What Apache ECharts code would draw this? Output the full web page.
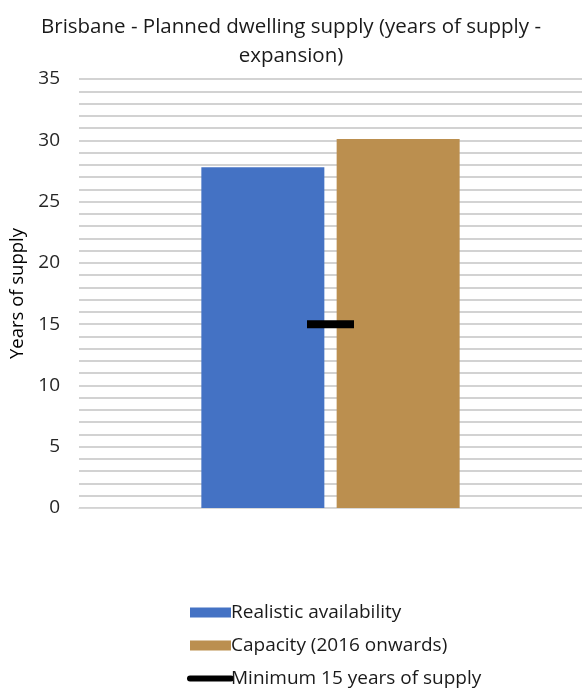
<!DOCTYPE html>
<html>
<head>
<meta charset="utf-8">
<script src="https://cdn.jsdelivr.net/npm/echarts@6/dist/echarts.min.js"></script>
<style>
  html, body { margin: 0; padding: 0; background: #fff; }
  #chart { width: 582px; height: 689px; }
</style>
</head>
<body>
<div id="chart"></div>
<script>
// Single-category dwelling supply chart for Brisbane
const categories = ['Brisbane'];
const realisticAvailability = [27.8];
const capacity2016 = [30.1];
const minimumSupply = [15];
const yTicks = { min: 0, max: 35, step: 5 };

const seriesNames = [
  'Realistic availability',
  'Capacity (2016 onwards)',
  'Minimum 15 years of supply'
];

const font = '"Open Sans", "Noto Sans", sans-serif';
const chart = echarts.init(document.getElementById('chart'));

chart.setOption({
  animation: false,
  backgroundColor: '#ffffff',
  title: {
    text: 'Brisbane - Planned dwelling supply (years of supply -\nexpansion)',
    left: 'center',
    top: 8,
    textStyle: {
      fontFamily: font,
      fontSize: 20.5,
      fontWeight: 'normal',
      color: '#1a1a1a',
      lineHeight: 29
    }
  },
  grid: { left: 79, right: 0, top: 79, bottom: 181, outerBoundsMode: 'none', containLabel: false },
  legend: {
    orient: 'vertical',
    left: 187,
    top: 603,
    padding: 0,
    itemWidth: 41,
    itemHeight: 10,
    itemGap: 14,
    textStyle: { fontFamily: font, fontSize: 19, color: '#1a1a1a', padding: [0, 0, 0, -5] },
    data: [
      { name: seriesNames[0], icon: 'rect' },
      { name: seriesNames[1], icon: 'rect' },
      { name: seriesNames[2], itemStyle: { opacity: 0 }, lineStyle: { width: 6, cap: 'round', color: '#000000' } }
    ]
  },
  xAxis: {
    type: 'category',
    data: categories,
    axisLine: { show: true, lineStyle: { color: '#d9d9d9', width: 1 } },
    axisTick: { show: false },
    axisLabel: { show: false }
  },
  yAxis: {
    type: 'value',
    min: yTicks.min,
    max: yTicks.max,
    interval: yTicks.step,
    name: 'Years of supply',
    nameLocation: 'middle',
    nameGap: 50,
    nameTextStyle: { fontFamily: font, fontSize: 18.5, color: '#000000' },
    axisLine: { show: false },
    axisTick: { show: false },
    axisLabel: { fontFamily: font, fontSize: 19, color: '#262626', margin: 19 },
    splitLine: { lineStyle: { color: '#c4c4c4', width: 1.5 } },
    minorTick: { show: false, splitNumber: 5 },
    minorSplitLine: { show: true, lineStyle: { color: '#c4c4c4', width: 1.5 } }
  },
  series: [
    {
      name: seriesNames[0],
      type: 'bar',
      data: realisticAvailability,
      barWidth: 123,
      barGap: '10%',
      itemStyle: { color: '#4472c4' }
    },
    {
      name: seriesNames[1],
      type: 'bar',
      data: capacity2016,
      barWidth: 123,
      barGap: '10%',
      itemStyle: { color: '#bb8f4f' }
    },
    {
      name: seriesNames[2],
      type: 'line',
      data: minimumSupply,
      symbol: 'rect',
      symbolSize: [47, 8],
      z: 5,
      itemStyle: { color: '#000000' },
      lineStyle: { color: '#000000', width: 5, cap: 'round' }
    }
  ]
});
</script>
</body>
</html>
